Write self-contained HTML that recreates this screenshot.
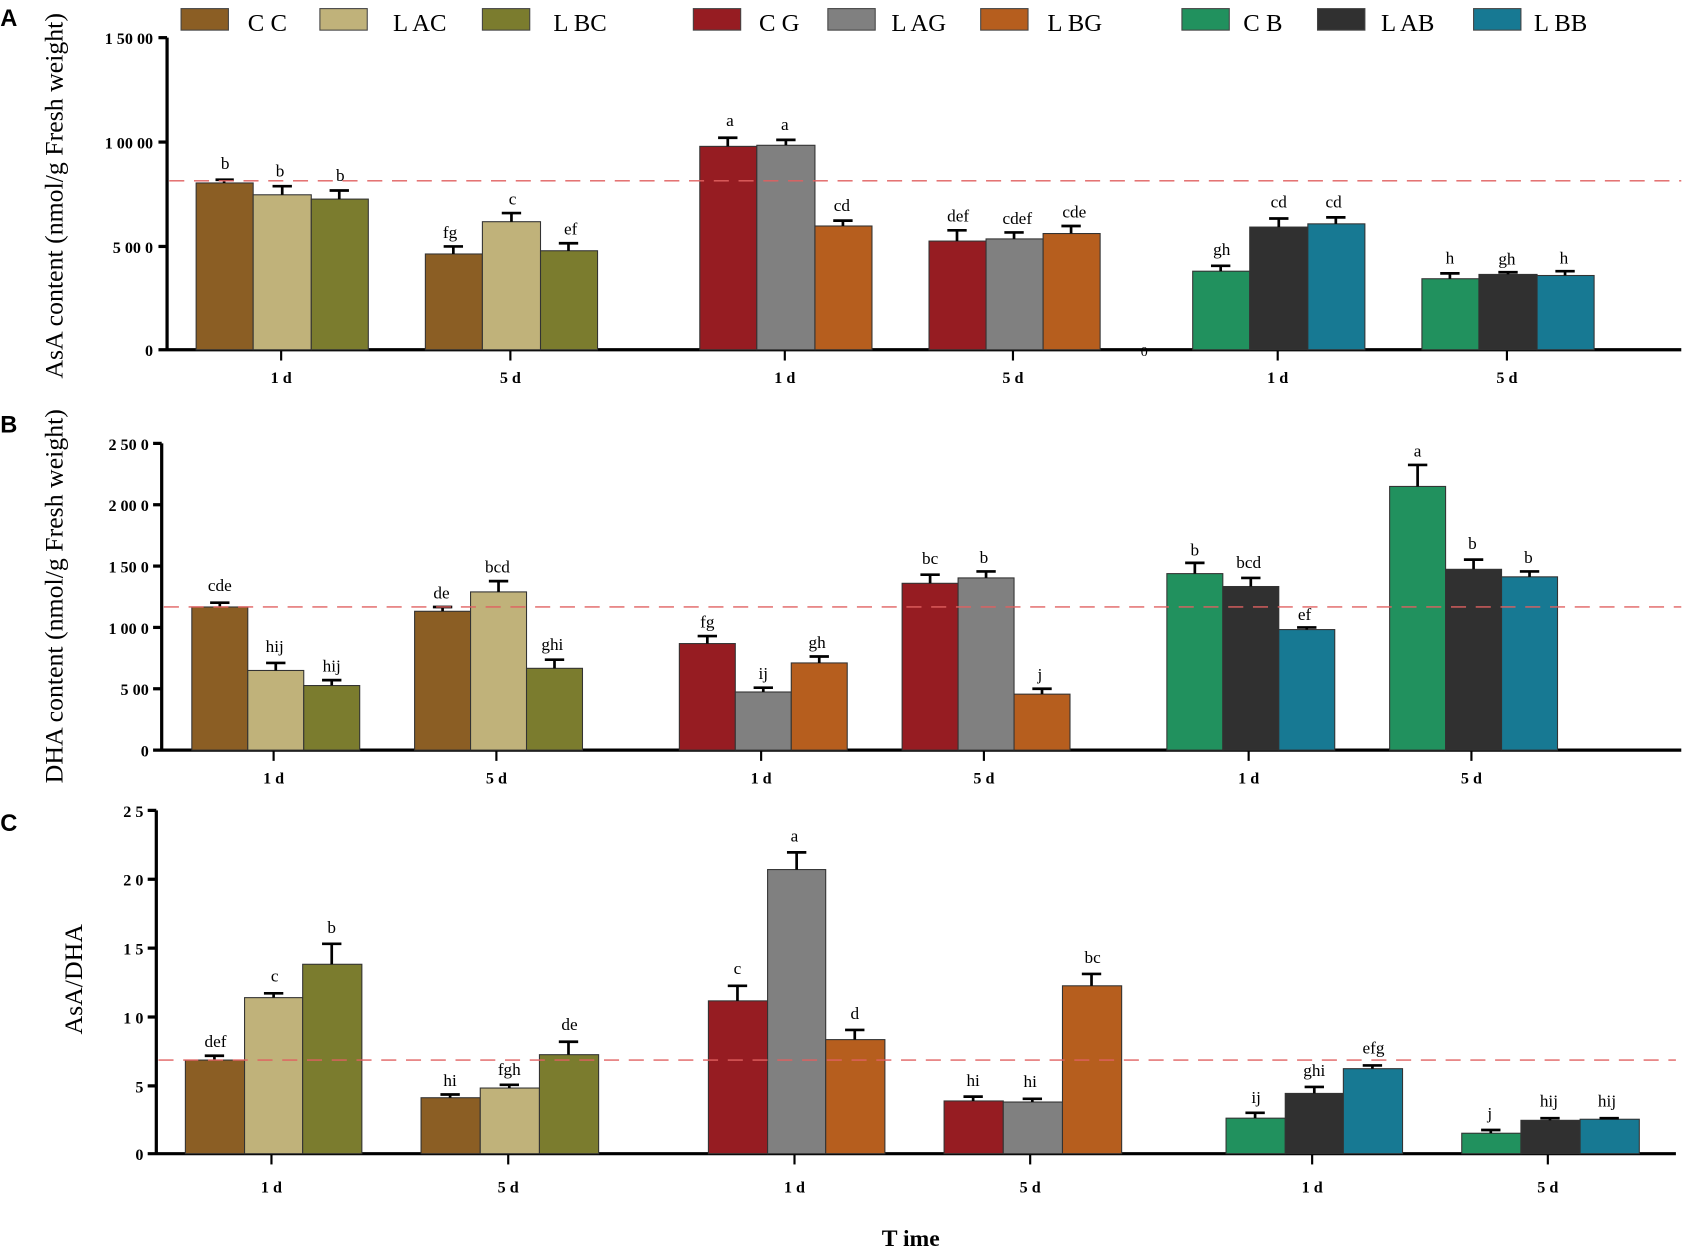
<!DOCTYPE html>
<html><head><meta charset="utf-8"><style>
html,body{margin:0;padding:0;background:#fff;}
svg{display:block;}
text{font-family:"Liberation Serif",serif;}
.t{font-size:15px;font-weight:bold;}
.x{font-size:15px;font-weight:bold;text-anchor:middle;}
.l{font-size:16px;text-anchor:middle;}
.g{font-size:23px;}
.yl{font-size:24px;text-anchor:middle;}
.pl{font-family:"Liberation Sans",sans-serif;font-size:22px;font-weight:bold;}
.e{stroke:#000;stroke-width:2.5;fill:none;}
rect.b{stroke:#333;stroke-width:1;}
.d{stroke:#E06060;stroke-width:1.3;stroke-dasharray:14,9;}
</style></head><body>
<svg width="1688" height="1257" viewBox="0 0 1568 1168" xmlns="http://www.w3.org/2000/svg">
<g>
<rect x="168" y="8" width="44" height="20" fill="#8B5E24" stroke="#444"/><text class="g" x="230" y="29">C C</text>
<rect x="297" y="8" width="44" height="20" fill="#C0B27A" stroke="#444"/><text class="g" x="365" y="29">L AC</text>
<rect x="448" y="8" width="44" height="20" fill="#7B7C2E" stroke="#444"/><text class="g" x="514" y="29">L BC</text>
<rect x="644" y="8" width="44" height="20" fill="#961C22" stroke="#444"/><text class="g" x="705" y="29">C G</text>
<rect x="769" y="8" width="44" height="20" fill="#808080" stroke="#444"/><text class="g" x="828" y="29">L AG</text>
<rect x="911" y="8" width="44" height="20" fill="#B65E1E" stroke="#444"/><text class="g" x="973" y="29">L BG</text>
<rect x="1098" y="8" width="44" height="20" fill="#21915E" stroke="#444"/><text class="g" x="1155" y="29">C B</text>
<rect x="1224" y="8" width="44" height="20" fill="#303030" stroke="#444"/><text class="g" x="1283" y="29">L AB</text>
<rect x="1369" y="8" width="44" height="20" fill="#177993" stroke="#444"/><text class="g" x="1425" y="29">L BB</text>
</g>
<text class="pl" x="0" y="24">A</text>
<text class="pl" x="0" y="402">B</text>
<text class="pl" x="0" y="772">C</text>

<text class="yl" transform="translate(58,182) rotate(-90)">AsA content (nmol/g Fresh weight)</text>
<line x1="155" y1="35" x2="155" y2="326" stroke="#000" stroke-width="3"/>
<line x1="147" y1="325" x2="1562" y2="325" stroke="#000" stroke-width="3"/>
<g stroke="#000" stroke-width="3"><line x1="147" y1="35" x2="155" y2="35"/><line x1="147" y1="132" x2="155" y2="132"/><line x1="147" y1="229" x2="155" y2="229"/></g>
<g class="t" text-anchor="end"><text x="142" y="41">1 50 00</text><text x="142" y="138">1 00 00</text><text x="142" y="235">5 00 0</text><text x="142" y="331">0</text></g>
<text x="1063" y="331" style="font-size:13px" text-anchor="middle">0</text>
<g stroke="#000" stroke-width="2"><line x1="261" y1="325" x2="261" y2="335"/><line x1="474" y1="325" x2="474" y2="335"/><line x1="729" y1="325" x2="729" y2="335"/><line x1="941" y1="325" x2="941" y2="335"/><line x1="1187" y1="325" x2="1187" y2="335"/><line x1="1400" y1="325" x2="1400" y2="335"/></g>
<g class="x"><text x="261" y="356">1 d</text><text x="474" y="356">5 d</text><text x="729" y="356">1 d</text><text x="941" y="356">5 d</text><text x="1187" y="356">1 d</text><text x="1400" y="356">5 d</text></g>
<rect class="b" x="182" y="170" width="53" height="155" fill="#8B5E24"/>
<rect class="b" x="235" y="181" width="54" height="144" fill="#C0B27A"/>
<rect class="b" x="289" y="185" width="53" height="140" fill="#7B7C2E"/>
<rect class="b" x="395" y="236" width="53" height="89" fill="#8B5E24"/>
<rect class="b" x="448" y="206" width="54" height="119" fill="#C0B27A"/>
<rect class="b" x="502" y="233" width="53" height="92" fill="#7B7C2E"/>
<rect class="b" x="650" y="136" width="53" height="189" fill="#961C22"/>
<rect class="b" x="703" y="135" width="54" height="190" fill="#808080"/>
<rect class="b" x="757" y="210" width="53" height="115" fill="#B65E1E"/>
<rect class="b" x="863" y="224" width="53" height="101" fill="#961C22"/>
<rect class="b" x="916" y="222" width="53" height="103" fill="#808080"/>
<rect class="b" x="969" y="217" width="53" height="108" fill="#B65E1E"/>
<rect class="b" x="1108" y="252" width="53" height="73" fill="#21915E"/>
<rect class="b" x="1161" y="211" width="54" height="114" fill="#303030"/>
<rect class="b" x="1215" y="208" width="53" height="117" fill="#177993"/>
<rect class="b" x="1321" y="259" width="53" height="66" fill="#21915E"/>
<rect class="b" x="1374" y="255" width="54" height="70" fill="#303030"/>
<rect class="b" x="1428" y="256" width="53" height="69" fill="#177993"/>
<path class="e" d="M208 170V167M200 167H217M262 181V173M253 173H271M315 185V177M306 177H324M421 236V229M412 229H430M475 206V198M466 198H484M528 233V226M519 226H537M676 136V128M667 128H685M730 135V130M721 130H739M783 210V205M774 205H792M889 224V214M880 214H898M942 222V216M933 216H951M995 217V210M986 210H1004M1134 252V247M1125 247H1143M1188 211V203M1179 203H1197M1241 208V202M1232 202H1250M1347 259V254M1338 254H1356M1401 255V253M1392 253H1410M1454 256V252M1445 252H1463"/>
<g class="l"><text x="209" y="157">b</text><text x="260" y="164">b</text><text x="316" y="168">b</text><text x="418" y="221">fg</text><text x="476" y="190">c</text><text x="530" y="218">ef</text><text x="678" y="117">a</text><text x="729" y="121">a</text><text x="782" y="196">cd</text><text x="890" y="206">def</text><text x="945" y="208">cdef</text><text x="998" y="202">cde</text><text x="1135" y="237">gh</text><text x="1188" y="193">cd</text><text x="1239" y="193">cd</text><text x="1347" y="245">h</text><text x="1400" y="246">gh</text><text x="1453" y="245">h</text></g>
<line class="d" x1="157" y1="168" x2="1562" y2="168"/>

<text class="yl" transform="translate(58,554) rotate(-90)">DHA content (nmol/g Fresh weight)</text>
<line x1="150" y1="412" x2="150" y2="698" stroke="#000" stroke-width="3"/>
<line x1="142" y1="697" x2="1562" y2="697" stroke="#000" stroke-width="3"/>
<g stroke="#000" stroke-width="3"><line x1="142" y1="412" x2="150" y2="412"/><line x1="142" y1="469" x2="150" y2="469"/><line x1="142" y1="526" x2="150" y2="526"/><line x1="142" y1="583" x2="150" y2="583"/><line x1="142" y1="640" x2="150" y2="640"/></g>
<g class="t" text-anchor="end"><text x="138" y="418">2 50 0</text><text x="138" y="475">2 00 0</text><text x="138" y="532">1 50 0</text><text x="138" y="589">1 00 0</text><text x="138" y="646">5 00</text><text x="138" y="703">0</text></g>
<g stroke="#000" stroke-width="2"><line x1="254" y1="697" x2="254" y2="707"/><line x1="461" y1="697" x2="461" y2="707"/><line x1="707" y1="697" x2="707" y2="707"/><line x1="914" y1="697" x2="914" y2="707"/><line x1="1160" y1="697" x2="1160" y2="707"/><line x1="1367" y1="697" x2="1367" y2="707"/></g>
<g class="x"><text x="254" y="728">1 d</text><text x="461" y="728">5 d</text><text x="707" y="728">1 d</text><text x="914" y="728">5 d</text><text x="1160" y="728">1 d</text><text x="1367" y="728">5 d</text></g>
<rect class="b" x="178" y="564" width="52" height="133" fill="#8B5E24"/>
<rect class="b" x="230" y="623" width="52" height="74" fill="#C0B27A"/>
<rect class="b" x="282" y="637" width="52" height="60" fill="#7B7C2E"/>
<rect class="b" x="385" y="568" width="52" height="129" fill="#8B5E24"/>
<rect class="b" x="437" y="550" width="52" height="147" fill="#C0B27A"/>
<rect class="b" x="489" y="621" width="52" height="76" fill="#7B7C2E"/>
<rect class="b" x="631" y="598" width="52" height="99" fill="#961C22"/>
<rect class="b" x="683" y="643" width="52" height="54" fill="#808080"/>
<rect class="b" x="735" y="616" width="52" height="81" fill="#B65E1E"/>
<rect class="b" x="838" y="542" width="52" height="155" fill="#961C22"/>
<rect class="b" x="890" y="537" width="52" height="160" fill="#808080"/>
<rect class="b" x="942" y="645" width="52" height="52" fill="#B65E1E"/>
<rect class="b" x="1084" y="533" width="52" height="164" fill="#21915E"/>
<rect class="b" x="1136" y="545" width="52" height="152" fill="#303030"/>
<rect class="b" x="1188" y="585" width="52" height="112" fill="#177993"/>
<rect class="b" x="1291" y="452" width="52" height="245" fill="#21915E"/>
<rect class="b" x="1343" y="529" width="52" height="168" fill="#303030"/>
<rect class="b" x="1395" y="536" width="52" height="161" fill="#177993"/>
<path class="e" d="M204 564V560M195 560H213M256 623V616M247 616H265M308 637V632M299 632H317M411 568V564M402 564H420M463 550V540M454 540H472M515 621V613M506 613H524M657 598V591M648 591H666M709 643V639M700 639H718M761 616V610M752 610H770M864 542V534M855 534H873M916 537V531M907 531H925M968 645V640M959 640H977M1110 533V523M1101 523H1119M1162 545V537M1153 537H1171M1214 585V583M1205 583H1223M1317 452V432M1308 432H1326M1369 529V520M1360 520H1378M1421 536V531M1412 531H1430"/>
<g class="l"><text x="204" y="549">cde</text><text x="255" y="606">hij</text><text x="308" y="624">hij</text><text x="410" y="556">de</text><text x="462" y="532">bcd</text><text x="513" y="604">ghi</text><text x="657" y="583">fg</text><text x="709" y="631">ij</text><text x="759" y="602">gh</text><text x="864" y="524">bc</text><text x="914" y="523">b</text><text x="966" y="632">j</text><text x="1110" y="516">b</text><text x="1160" y="528">bcd</text><text x="1212" y="576">ef</text><text x="1317" y="424">a</text><text x="1368" y="510">b</text><text x="1420" y="523">b</text></g>
<line class="d" x1="152" y1="564" x2="1562" y2="564"/>

<text class="yl" transform="translate(76,910) rotate(-90)">AsA/DHA</text>
<line x1="145" y1="753" x2="145" y2="1073" stroke="#000" stroke-width="3"/>
<line x1="137" y1="1072" x2="1557" y2="1072" stroke="#000" stroke-width="3"/>
<g stroke="#000" stroke-width="3"><line x1="137" y1="753" x2="145" y2="753"/><line x1="137" y1="817" x2="145" y2="817"/><line x1="137" y1="881" x2="145" y2="881"/><line x1="137" y1="945" x2="145" y2="945"/><line x1="137" y1="1009" x2="145" y2="1009"/></g>
<g class="t" text-anchor="end"><text x="133" y="759">2 5</text><text x="133" y="823">2 0</text><text x="133" y="887">1 5</text><text x="133" y="951">1 0</text><text x="133" y="1015">5</text><text x="133" y="1078">0</text></g>
<g stroke="#000" stroke-width="2"><line x1="252" y1="1072" x2="252" y2="1082"/><line x1="472" y1="1072" x2="472" y2="1082"/><line x1="738" y1="1072" x2="738" y2="1082"/><line x1="957" y1="1072" x2="957" y2="1082"/><line x1="1219" y1="1072" x2="1219" y2="1082"/><line x1="1438" y1="1072" x2="1438" y2="1082"/></g>
<g class="x"><text x="252" y="1108">1 d</text><text x="472" y="1108">5 d</text><text x="738" y="1108">1 d</text><text x="957" y="1108">5 d</text><text x="1219" y="1108">1 d</text><text x="1438" y="1108">5 d</text></g>
<rect class="b" x="172" y="985" width="55" height="87" fill="#8B5E24"/>
<rect class="b" x="227" y="927" width="54" height="145" fill="#C0B27A"/>
<rect class="b" x="281" y="896" width="55" height="176" fill="#7B7C2E"/>
<rect class="b" x="391" y="1020" width="55" height="52" fill="#8B5E24"/>
<rect class="b" x="446" y="1011" width="55" height="61" fill="#C0B27A"/>
<rect class="b" x="501" y="980" width="55" height="92" fill="#7B7C2E"/>
<rect class="b" x="658" y="930" width="55" height="142" fill="#961C22"/>
<rect class="b" x="713" y="808" width="54" height="264" fill="#808080"/>
<rect class="b" x="767" y="966" width="55" height="106" fill="#B65E1E"/>
<rect class="b" x="877" y="1023" width="55" height="49" fill="#961C22"/>
<rect class="b" x="932" y="1024" width="55" height="48" fill="#808080"/>
<rect class="b" x="987" y="916" width="55" height="156" fill="#B65E1E"/>
<rect class="b" x="1139" y="1039" width="55" height="33" fill="#21915E"/>
<rect class="b" x="1194" y="1016" width="54" height="56" fill="#303030"/>
<rect class="b" x="1248" y="993" width="55" height="79" fill="#177993"/>
<rect class="b" x="1358" y="1053" width="55" height="19" fill="#21915E"/>
<rect class="b" x="1413" y="1041" width="55" height="31" fill="#303030"/>
<rect class="b" x="1468" y="1040" width="55" height="32" fill="#177993"/>
<path class="e" d="M199 985V981M190 981H208M254 927V923M245 923H263M308 896V877M299 877H317M418 1020V1017M409 1017H427M473 1011V1008M464 1008H482M528 980V968M519 968H537M685 930V916M676 916H694M740 808V792M731 792H749M794 966V957M785 957H803M904 1023V1019M895 1019H913M959 1024V1021M950 1021H968M1014 916V905M1005 905H1023M1166 1039V1034M1157 1034H1175M1221 1016V1010M1212 1010H1230M1275 993V990M1266 990H1284M1385 1053V1050M1376 1050H1394M1440 1041V1039M1431 1039H1449M1495 1040V1039M1486 1039H1504"/>
<g class="l"><text x="200" y="973">def</text><text x="255" y="912">c</text><text x="308" y="867">b</text><text x="418" y="1009">hi</text><text x="473" y="999">fgh</text><text x="529" y="957">de</text><text x="685" y="905">c</text><text x="738" y="782">a</text><text x="794" y="947">d</text><text x="904" y="1009">hi</text><text x="957" y="1010">hi</text><text x="1015" y="895">bc</text><text x="1167" y="1025">ij</text><text x="1221" y="1000">ghi</text><text x="1276" y="979">efg</text><text x="1384" y="1040">j</text><text x="1439" y="1028">hij</text><text x="1493" y="1028">hij</text></g>
<line class="d" x1="147" y1="985" x2="1557" y2="985"/>

<text x="846" y="1158" style="font-size:22px;font-weight:bold" text-anchor="middle">T ime</text>
</svg>
</body></html>
